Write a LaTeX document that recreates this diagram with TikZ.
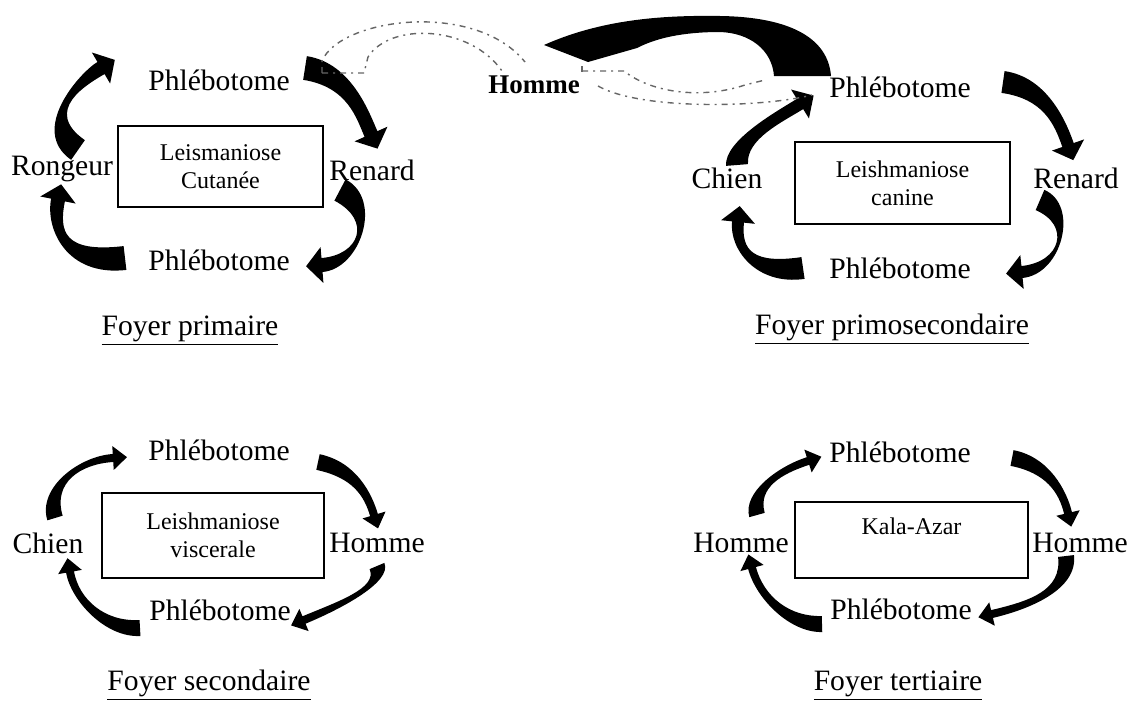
\documentclass[tikz,border=0pt]{standalone}
\usepackage{fontspec}
\setmainfont{Liberation Serif}
\usetikzlibrary{calc}
\tikzset{
  lab/.style={font=\fontsize{14.8}{17}\selectfont, inner sep=0pt},
  ttl/.style={font=\fontsize{14.8}{17}\selectfont, inner sep=0pt, anchor=base},
  diseasebox/.style={draw, line width=0.8pt, font=\fontsize{12}{14}\selectfont, align=center, inner sep=0pt},
  dashloop/.style={draw=black!60, line width=0.7pt, dash pattern=on 3pt off 2.5pt on 1pt off 2.5pt},
}
\newcommand\arrowdims[4]{\def\aw{#1}\def\ew{#2}\def\hw{#3}\def\hln{-#4}}
% tapered curved arrow: tail, control 1, control 2, head base
\newcommand\farrow[4]{%
  \coordinate (SL) at ($(#1)!\aw!90:(#2)$);
  \coordinate (SR) at ($(#1)!\aw!-90:(#2)$);
  \coordinate (C1L) at ($(#2)+(SL)-(#1)$);
  \coordinate (C1R) at ($(#2)+(SR)-(#1)$);
  \coordinate (EL) at ($(#4)!\ew!-90:(#3)$);
  \coordinate (ER) at ($(#4)!\ew!90:(#3)$);
  \coordinate (C2L) at ($(#3)+(EL)-(#4)$);
  \coordinate (C2R) at ($(#3)+(ER)-(#4)$);
  \coordinate (HL) at ($(#4)!\hw!-90:(#3)$);
  \coordinate (HR) at ($(#4)!\hw!90:(#3)$);
  \coordinate (TP) at ($(#4)!\hln!(#3)$);
  \fill[black] (SL) .. controls (C1L) and (C2L) .. (EL) -- (HL) -- (TP) -- (HR) -- (ER)
     .. controls (C2R) and (C1R) .. (SR) -- cycle;}
\begin{document}
\begin{tikzpicture}[x=0.5pt,y=-0.5pt]
\useasboundingbox[fill=white] (0,0) rectangle (1133,702);

% ---------------- Panel 1: Foyer primaire
\node[diseasebox, minimum width=102.5pt, minimum height=40.5pt] (box1) at (220.5,166.5) {Leismaniose\\Cutanée};
\node[lab] (phl1a) at (219,80) {Phlébotome};
\node[lab] (rong1) at (62,169) {Rongeur};
\node[lab] (ren1) at (372,170) {Renard};
\node[lab] (phl1b) at (219,260) {Phlébotome};
\node[ttl] (foy1) at (190,335) {\underline{Foyer primaire}};
\arrowdims{6pt}{3.5pt}{9pt}{8pt}
\farrow{78,150}{35,120}{84,78}{101,68}
\farrow{305,68}{350,75}{363,116}{371,134}
\farrow{340,190}{378,210}{360,262}{322,265}
\farrow{125,258}{65,265}{52,230}{58,200}

% ---------------- Panel 2: Foyer primosecondaire
\node[diseasebox, minimum width=107.5pt, minimum height=41pt] (box2) at (902.5,183) {Leishmaniose\\canine};
\node[lab] (phl2a) at (900,87) {Phlébotome};
\node[lab] (chien2) at (727,178) {Chien};
\node[lab] (ren2) at (1076,178) {Renard};
\node[lab] (phl2b) at (900,268) {Phlébotome};
\node[ttl] (foy2) at (892,334) {\underline{Foyer primosecondaire}};
\arrowdims{5.5pt}{3pt}{8.5pt}{8pt}
\farrow{737,165}{735,140}{779,117}{800,104}
\farrow{1003,82}{1045,88}{1060,122}{1068,145}
\farrow{1040,200}{1075,215}{1062,268}{1022,272}
\farrow{803,268}{755,275}{735,250}{738,222}

% ---------------- Panel 3: Foyer secondaire
\node[diseasebox, minimum width=111pt, minimum height=42.5pt] (box3) at (213,535.5) {Leishmaniose\\viscerale};
\node[lab] (phl3a) at (219,450) {Phlébotome};
\node[lab] (chien3) at (48,543) {Chien};
\node[lab] (hom3) at (377,543) {Homme};
\node[lab] (phl3b) at (220,610) {Phlébotome};
\node[ttl] (foy3) at (209,690) {\underline{Foyer secondaire}};
\arrowdims{4pt}{2pt}{6pt}{7pt}
\farrow{55,518}{45,485}{80,460}{113,458}
\farrow{318,462}{355,470}{368,495}{374,515}
\farrow{377,566}{385,585}{340,605}{304,620}
\farrow{140,628}{105,630}{75,600}{70,572}

% ---------------- Panel 4: Foyer tertiaire
\node[diseasebox, minimum width=116.5pt, minimum height=38pt] (box4) at (911.5,540) {Kala-Azar\\\mbox{}};
\node[lab] (phl4a) at (900,452) {Phlébotome};
\node[lab] (hom4l) at (741,543) {Homme};
\node[lab] (hom4r) at (1080,543) {Homme};
\node[lab] (phl4b) at (901,609) {Phlébotome};
\node[ttl] (foy4) at (898,690) {\underline{Foyer tertiaire}};
\farrow{757,515}{750,490}{780,470}{808,461}
\farrow{1012,458}{1048,465}{1063,492}{1068,513}
\farrow{1066,556}{1070,590}{1030,605}{992,614}
\farrow{822,624}{790,625}{760,598}{752,568}

% ---------------- Top middle: Homme and links
\node[lab, font=\fontsize{13.5}{16}\selectfont\bfseries] (hom0) at (534,85) {Homme};
% hollow dashed arrows
\draw[dashloop] (322,73) -- (322,61) .. controls (340,18) and (475,0) .. (525,62);
\draw[dashloop] (322,73) -- (364,73) -- (368,57) .. controls (390,22) and (470,25) .. (502,71);
\draw[dashloop] (582,66) -- (582,77);
\draw[dashloop] (582,71) -- (624,71) .. controls (650,92) and (700,100) .. (745,85) -- (765,80);
\draw[dashloop] (598,86) .. controls (640,110) and (760,108) .. (812,95);
% big black arrow from Phlebotome to Homme
\fill[black] (831,76) .. controls (828,38) and (790,17) .. (720,16)
   .. controls (660,15) and (600,20) .. (544,45) -- (588,62) -- (637,48)
   .. controls (660,36) and (690,32) .. (720,32)
   .. controls (750,33) and (772,50) .. (774,76) -- cycle;
\end{tikzpicture}
\end{document}
